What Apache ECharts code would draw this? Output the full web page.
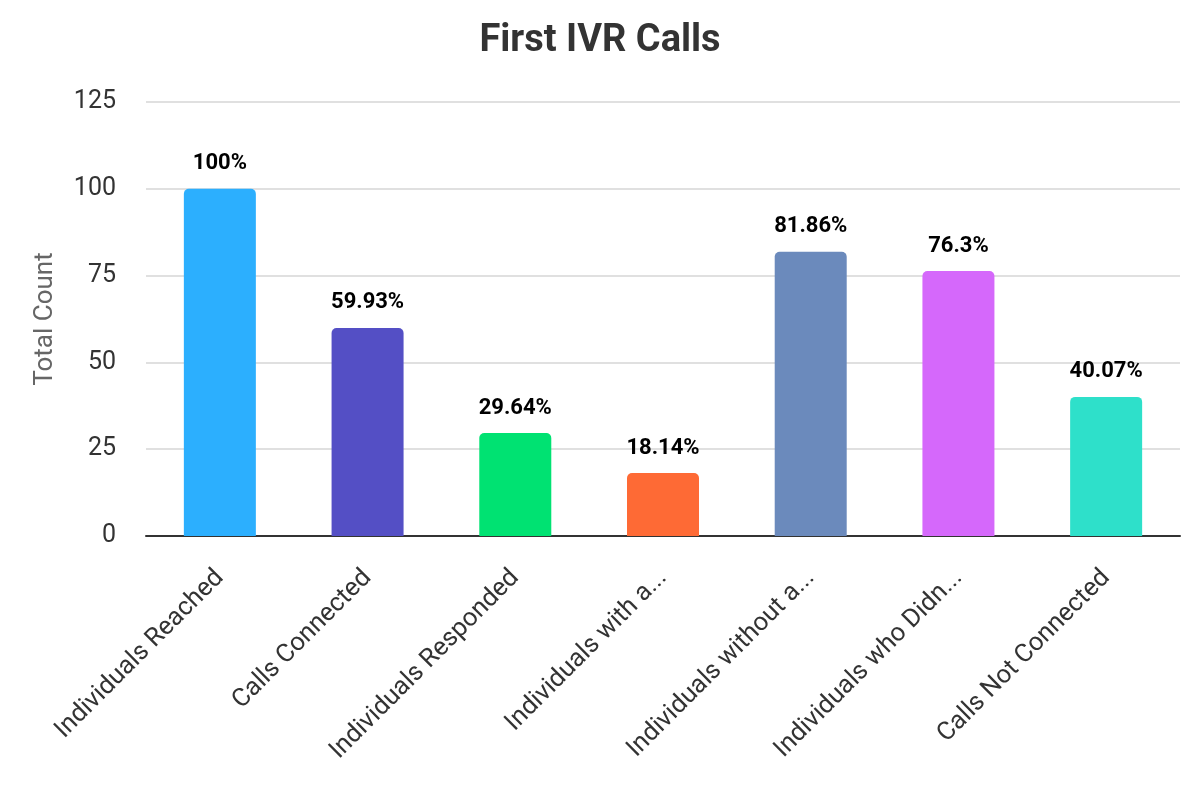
<!DOCTYPE html>
<html>
<head>
<meta charset="utf-8">
<script src="https://cdn.jsdelivr.net/npm/echarts@6/dist/echarts.min.js"></script>
<style>
html,body{margin:0;padding:0;background:#fff;}
#chart{width:1200px;height:800px;}
</style>
</head>
<body>
<div id="chart"></div>
<script>
const categories = ["Individuals Reached", "Calls Connected", "Individuals Responded", "Individuals with a...", "Individuals without a...", "Individuals who Didn...", "Calls Not Connected"];
const values = [100, 59.93, 29.64, 18.14, 81.86, 76.3, 40.07];
const barLabels = ["100%", "59.93%", "29.64%", "18.14%", "81.86%", "76.3%", "40.07%"];
const colors = ["#2caffe", "#544fc5", "#00e272", "#fe6a35", "#6b8abc", "#d568fb", "#2ee0ca"];
const yTicks = [0, 25, 50, 75, 100, 125];

const chart = echarts.init(document.getElementById('chart'), null, {renderer: 'canvas'});
chart.setOption({
  animation: false,
  backgroundColor: '#ffffff',
  title: {
    text: 'First IVR Calls',
    left: 'center',
    top: 17,
    textStyle: {fontFamily: 'Roboto', fontSize: 38, fontWeight: 'bold', color: '#333333'}
  },
  grid: {left: 146, right: 20, top: 102, bottom: 264, containLabel: false},
  xAxis: {
    type: 'category',
    data: categories,
    axisLine: {show: true, lineStyle: {color: '#333333', width: 2}},
    axisTick: {show: false},
    axisLabel: {
      rotate: 45,
      interval: 0,
      margin: 38,
      fontFamily: 'Roboto',
      fontSize: 25.5,
      color: '#333333'
    }
  },
  yAxis: {
    type: 'value',
    min: yTicks[0],
    max: yTicks[yTicks.length - 1],
    interval: 25,
    name: 'Total Count',
    nameLocation: 'middle',
    nameGap: 88,
    nameTextStyle: {fontFamily: 'Roboto', fontSize: 26, color: '#666666'},
    axisLine: {show: false},
    axisTick: {show: false},
    axisLabel: {fontFamily: 'Roboto', fontSize: 25, color: '#333333', margin: 30},
    splitLine: {lineStyle: {color: '#e0e0e0', width: 2}}
  },
  series: [{
    type: 'bar',
    barWidth: 72,
    data: values.map((v, i) => ({
      value: v,
      itemStyle: {color: colors[i], borderRadius: [5, 5, 0, 0]}
    })),
    label: {
      show: true,
      position: 'top',
      distance: 14,
      formatter: p => barLabels[p.dataIndex],
      fontFamily: 'Roboto',
      fontSize: 22,
      fontWeight: 'bold',
      color: '#000000'
    }
  }]
});
</script>
</body>
</html>
